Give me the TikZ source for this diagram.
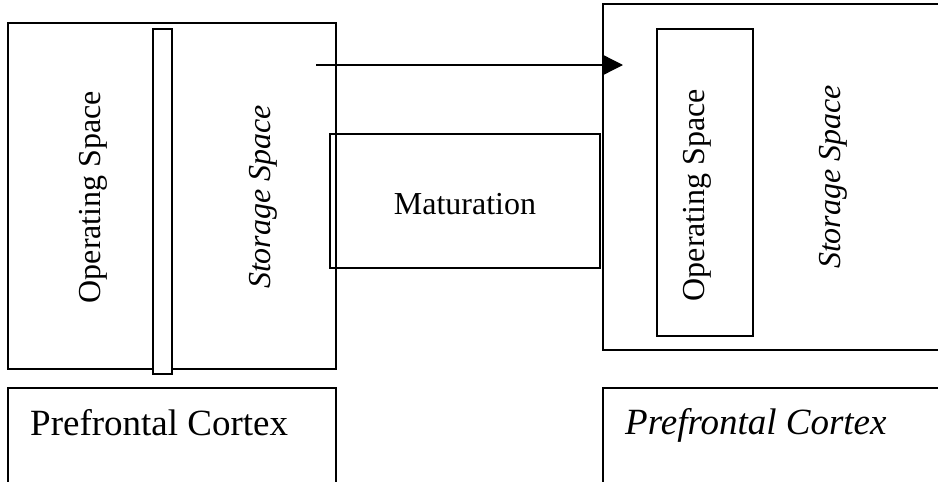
\documentclass[tikz,border=0pt]{standalone}
\usepackage{fontspec}
\setmainfont{Liberation Serif}
\usetikzlibrary{arrows.meta}
\begin{document}
\begin{tikzpicture}[x=1pt,y=-1pt,
  box/.style={draw=black,line width=1.4pt},
  body/.style={font=\fontsize{32}{38}\selectfont,inner sep=0pt},
  big/.style={font=\fontsize{37}{44}\selectfont,inner sep=0pt,anchor=base west},
  conn/.style={line width=1.4pt,-{Triangle[length=21pt,width=21pt]}}]
\useasboundingbox (0,0) rectangle (938,482);
\clip (0,0) rectangle (938,482);
% left top box
\draw[box] (8,23) rectangle (336,369);
\node[box,fill=white,inner sep=0pt,minimum width=19pt,minimum height=345pt] (bar) at (162.5,201.5) {};
\node[body,rotate=90] (opL) at (93,197) {Operating Space};
\node[body,rotate=90] (stL) at (263,197) {\itshape Storage Space};
% maturation
\node[box,inner sep=0pt,minimum width=270pt,minimum height=134pt] (mat) at (465,201) {};
\node[body] (matT) at (465,204) {Maturation};
% right top box
\draw[box] (603,4) rectangle (960,350);
\node[box,inner sep=0pt,minimum width=96pt,minimum height=307pt] (opbox) at (705,182.5) {};
\node[body,rotate=90] (opR) at (697,195) {Operating Space};
\node[body,rotate=90] (stR) at (833,177) {\itshape Storage Space};
% arrow
\coordinate (a0) at (316,65);
\coordinate (a1) at (623,65);
\draw[conn] (a0) -- (a1);
% bottom boxes
\draw[box] (8,388) rectangle (336,520);
\draw[box] (603,388) rectangle (960,520);
\node[big] (pfL) at (30,435) {Prefrontal Cortex};
\node[big] (pfR) at (625,434) {\itshape Prefrontal Cortex};
\end{tikzpicture}
\end{document}
